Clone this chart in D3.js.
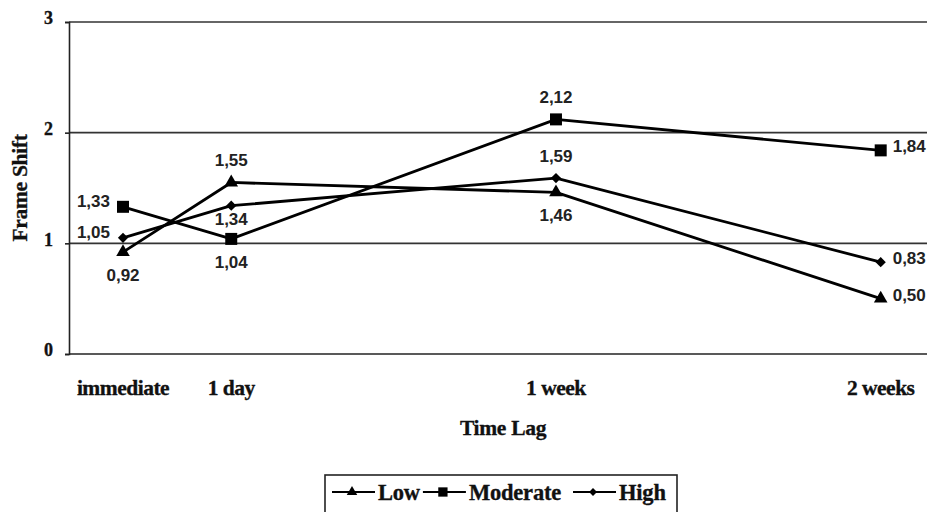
<!DOCTYPE html>
<html><head><meta charset="utf-8">
<script src="https://cdn.jsdelivr.net/npm/d3@7"></script>
<style>body{margin:0;background:#fff}svg{display:block}</style>
</head><body>
<script>
const categories = ["immediate", "1 day", "1 week", "2 weeks"];
const timePos = [0, 1, 4, 7];
const yTicks = [0, 1, 2, 3];
const lowValues = [0.92, 1.55, 1.46, 0.50];
const moderateValues = [1.33, 1.04, 2.12, 1.84];
const highValues = [1.05, 1.34, 1.59, 0.83];
const lowLabelPos = ["below", "above", "below", "right"];
const moderateLabelPos = ["left", "below", "above", "right"];
const highLabelPos = ["left", "belowNear", "above", "right"];

const series = [
  {name: "Low", values: lowValues, pos: lowLabelPos, symbol: d3.symbolTriangle, size: 80, rot: 0},
  {name: "Moderate", values: moderateValues, pos: moderateLabelPos, symbol: d3.symbolSquare, size: 144, rot: 0},
  {name: "High", values: highValues, pos: highLabelPos, symbol: d3.symbolSquare, size: 52, rot: 45}
];

const W = 927, H = 512;
const svg = d3.select("body").append("svg").attr("width", W).attr("height", H);
const x = d3.scaleLinear().domain([0, 7]).range([123, 880.7]);
const y = d3.scaleLinear().domain([0, 3]).range([354, 22]);
const left = 69, right = 927;
const serif = "'Liberation Serif','Times New Roman',serif";
const sans = "'Liberation Sans',Arial,sans-serif";
const serifStyle = sel => sel.attr("font-family", serif).attr("font-weight", "bold")
  .attr("fill", "#111").attr("stroke", "#111").attr("stroke-width", 0.35);

// gridlines
svg.append("g").selectAll("line").data(yTicks.filter(d => d > 0)).join("line")
  .attr("x1", left).attr("x2", right).attr("y1", d => y(d)).attr("y2", d => y(d))
  .attr("stroke", "#333").attr("stroke-width", 1.6);

// y axis
const yAxis = svg.append("g").attr("transform", `translate(${left},0)`)
  .call(d3.axisLeft(y).tickValues(yTicks).tickFormat(d3.format("d")).tickSize(4).tickPadding(12));
yAxis.select(".domain").attr("stroke", "#222").attr("stroke-width", 1.6);
yAxis.selectAll(".tick line").attr("stroke", "#222").attr("stroke-width", 1.6);
yAxis.selectAll("text").call(serifStyle).attr("font-size", 18).attr("dy", "0.1em");

// x baseline
svg.append("line").attr("x1", left).attr("x2", right).attr("y1", y(0)).attr("y2", y(0))
  .attr("stroke", "#222").attr("stroke-width", 1.6);

// x tick labels
svg.append("g").selectAll("text").data(categories).join("text")
  .attr("x", (d, i) => x(timePos[i])).attr("y", 395)
  .attr("text-anchor", "middle").call(serifStyle)
  .attr("font-size", 21.5).attr("letter-spacing", "-0.5px").text(d => d);

// axis titles
svg.append("text").attr("x", 503).attr("y", 435).attr("text-anchor", "middle")
  .call(serifStyle).attr("font-size", 21.5).attr("letter-spacing", "-0.3px").text("Time Lag");
svg.append("text").attr("transform", "translate(27,188) rotate(-90)").attr("text-anchor", "middle")
  .call(serifStyle).attr("font-size", 21.5).attr("letter-spacing", "-0.3px").text("Frame Shift");

// lines
const line = d3.line().x((d, i) => x(timePos[i])).y(d => y(d));
series.forEach(s => {
  svg.append("path").datum(s.values).attr("d", line).attr("fill", "none")
    .attr("stroke", "#000").attr("stroke-width", 2.8).attr("stroke-linejoin", "round");
});
series.forEach(s => {
  svg.append("g").selectAll("path").data(s.values).join("path")
    .attr("transform", (d, i) => `translate(${x(timePos[i])},${y(d)}) rotate(${s.rot})`)
    .attr("d", d3.symbol().type(s.symbol).size(s.size)).attr("fill", "#000");
});

// data labels
const fmt = v => v.toFixed(2).replace(".", ",");
series.forEach(s => {
  s.values.forEach((v, i) => {
    const px = x(timePos[i]), py = y(v);
    let tx = px, ty = py, anchor = "middle";
    switch (s.pos[i]) {
      case "above": ty = py - 22; break;
      case "below": ty = py + 23; break;
      case "belowNear": ty = py + 13; break;
      case "left": tx = px - 13; ty = py - 6; anchor = "end"; break;
      case "right": tx = px + 12; ty = py - 4; anchor = "start"; break;
    }
    svg.append("text").attr("x", tx).attr("y", ty).attr("dy", "0.35em")
      .attr("text-anchor", anchor).attr("font-family", sans).attr("font-weight", "bold")
      .attr("font-size", 17).attr("fill", "#222").text(fmt(v));
  });
});

// legend
const lg = svg.append("g");
lg.append("rect").attr("x", 325).attr("y", 475).attr("width", 352).attr("height", 50)
  .attr("fill", "#fff").attr("stroke", "#222").attr("stroke-width", 1.6);
let cx = 332;
series.forEach((s, k) => {
  lg.append("line").attr("x1", cx).attr("x2", cx + 43).attr("y1", 492).attr("y2", 492)
    .attr("stroke", "#000").attr("stroke-width", 2.2);
  lg.append("path").attr("transform", `translate(${cx + 20},492) rotate(${s.rot})`)
    .attr("d", d3.symbol().type(s.symbol).size(s.size * 0.6)).attr("fill", "#000");
  const t = lg.append("text").attr("x", cx + 46).attr("y", 492).attr("dy", "0.35em")
    .call(serifStyle).attr("font-size", 22.5).attr("letter-spacing", "-0.2px").text(s.name);
  cx += 46 + t.node().getComputedTextLength() + (k === 0 ? 3 : 12);
});
</script>
</body></html>
